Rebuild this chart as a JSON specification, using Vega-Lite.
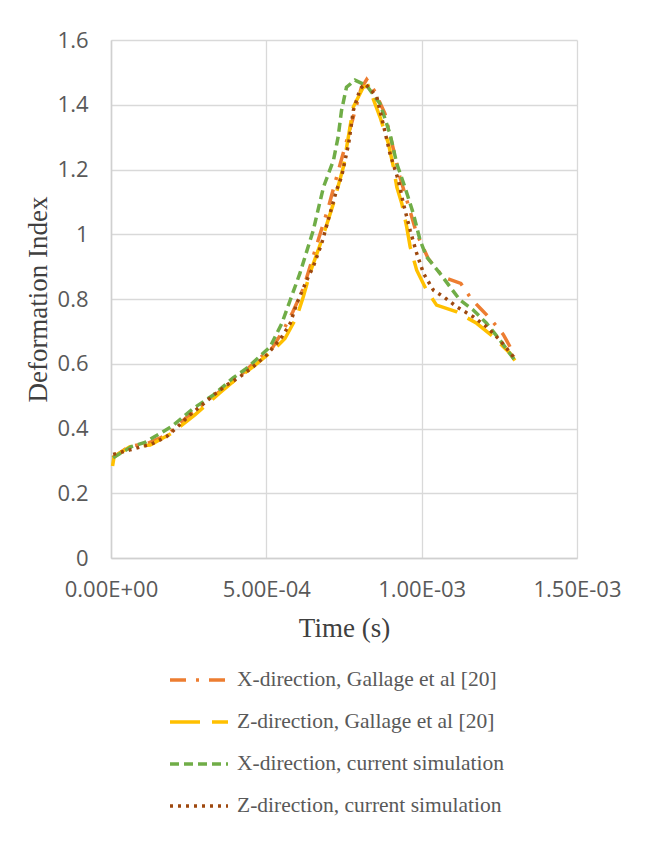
{
  "$schema": "https://vega.github.io/schema/vega-lite/v6.json",
  "width": 466,
  "height": 518,
  "autosize": {"type": "none"},
  "padding": {"left": 111, "top": 40, "right": 85, "bottom": 285},
  "background": "white",
  "config": {
    "view": {"stroke": null},
    "axis": {
      "labelFont": "Open Sans",
      "labelFontSize": 22,
      "labelColor": "#595959",
      "titleFont": "Liberation Serif",
      "titleFontSize": 27,
      "titleFontWeight": "normal",
      "titleColor": "#404040",
      "gridColor": "#d9d9d9",
      "gridWidth": 1.3,
      "domainColor": "#d0d0d0",
      "domainWidth": 1.5,
      "ticks": false
    },
    "legend": {
      "orient": "none",
      "legendX": 57,
      "legendY": 609,
      "labelFont": "Liberation Serif",
      "labelFontSize": 21.5,
      "labelColor": "#595959",
      "labelLimit": 400,
      "labelOffset": 7,
      "symbolType": "stroke",
      "symbolSize": 3364,
      "symbolStrokeWidth": 3.5,
      "rowPadding": 0
    }
  },
  "data": {
    "values": [
      {"series": "X-direction, Gallage et al [20]", "t": 0.000005, "v": 0.31},
      {"series": "X-direction, Gallage et al [20]", "t": 0.00006, "v": 0.345},
      {"series": "X-direction, Gallage et al [20]", "t": 0.00012, "v": 0.355},
      {"series": "X-direction, Gallage et al [20]", "t": 0.00018, "v": 0.38},
      {"series": "X-direction, Gallage et al [20]", "t": 0.00025, "v": 0.44},
      {"series": "X-direction, Gallage et al [20]", "t": 0.00033, "v": 0.5},
      {"series": "X-direction, Gallage et al [20]", "t": 0.0004, "v": 0.55},
      {"series": "X-direction, Gallage et al [20]", "t": 0.00047, "v": 0.611},
      {"series": "X-direction, Gallage et al [20]", "t": 0.00052, "v": 0.65},
      {"series": "X-direction, Gallage et al [20]", "t": 0.000555, "v": 0.704},
      {"series": "X-direction, Gallage et al [20]", "t": 0.000585, "v": 0.76},
      {"series": "X-direction, Gallage et al [20]", "t": 0.000619, "v": 0.832},
      {"series": "X-direction, Gallage et al [20]", "t": 0.000657, "v": 0.951},
      {"series": "X-direction, Gallage et al [20]", "t": 0.0007, "v": 1.084},
      {"series": "X-direction, Gallage et al [20]", "t": 0.000738, "v": 1.218},
      {"series": "X-direction, Gallage et al [20]", "t": 0.00078, "v": 1.362},
      {"series": "X-direction, Gallage et al [20]", "t": 0.000805, "v": 1.45},
      {"series": "X-direction, Gallage et al [20]", "t": 0.000823, "v": 1.478},
      {"series": "X-direction, Gallage et al [20]", "t": 0.00085, "v": 1.44},
      {"series": "X-direction, Gallage et al [20]", "t": 0.000882, "v": 1.372},
      {"series": "X-direction, Gallage et al [20]", "t": 0.00093, "v": 1.177},
      {"series": "X-direction, Gallage et al [20]", "t": 0.000984, "v": 1.002},
      {"series": "X-direction, Gallage et al [20]", "t": 0.001021, "v": 0.925},
      {"series": "X-direction, Gallage et al [20]", "t": 0.001069, "v": 0.868},
      {"series": "X-direction, Gallage et al [20]", "t": 0.001126, "v": 0.848},
      {"series": "X-direction, Gallage et al [20]", "t": 0.00116, "v": 0.8},
      {"series": "X-direction, Gallage et al [20]", "t": 0.00119, "v": 0.77},
      {"series": "X-direction, Gallage et al [20]", "t": 0.00122, "v": 0.74},
      {"series": "X-direction, Gallage et al [20]", "t": 0.001263, "v": 0.69},
      {"series": "X-direction, Gallage et al [20]", "t": 0.0013, "v": 0.625},

      {"series": "Z-direction, Gallage et al [20]", "t": 0.000005, "v": 0.284},
      {"series": "Z-direction, Gallage et al [20]", "t": 0.00001, "v": 0.313},
      {"series": "Z-direction, Gallage et al [20]", "t": 0.000061, "v": 0.344},
      {"series": "Z-direction, Gallage et al [20]", "t": 0.000126, "v": 0.349},
      {"series": "Z-direction, Gallage et al [20]", "t": 0.000195, "v": 0.385},
      {"series": "Z-direction, Gallage et al [20]", "t": 0.00027, "v": 0.442},
      {"series": "Z-direction, Gallage et al [20]", "t": 0.00035, "v": 0.51},
      {"series": "Z-direction, Gallage et al [20]", "t": 0.0004, "v": 0.55},
      {"series": "Z-direction, Gallage et al [20]", "t": 0.000458, "v": 0.591},
      {"series": "Z-direction, Gallage et al [20]", "t": 0.000522, "v": 0.642},
      {"series": "Z-direction, Gallage et al [20]", "t": 0.00056, "v": 0.678},
      {"series": "Z-direction, Gallage et al [20]", "t": 0.000598, "v": 0.745},
      {"series": "Z-direction, Gallage et al [20]", "t": 0.000619, "v": 0.807},
      {"series": "Z-direction, Gallage et al [20]", "t": 0.00064, "v": 0.879},
      {"series": "Z-direction, Gallage et al [20]", "t": 0.000678, "v": 0.981},
      {"series": "Z-direction, Gallage et al [20]", "t": 0.000716, "v": 1.095},
      {"series": "Z-direction, Gallage et al [20]", "t": 0.000748, "v": 1.208},
      {"series": "Z-direction, Gallage et al [20]", "t": 0.00078, "v": 1.393},
      {"series": "Z-direction, Gallage et al [20]", "t": 0.000812, "v": 1.454},
      {"series": "Z-direction, Gallage et al [20]", "t": 0.000828, "v": 1.459},
      {"series": "Z-direction, Gallage et al [20]", "t": 0.000866, "v": 1.362},
      {"series": "Z-direction, Gallage et al [20]", "t": 0.000893, "v": 1.28},
      {"series": "Z-direction, Gallage et al [20]", "t": 0.000909, "v": 1.208},
      {"series": "Z-direction, Gallage et al [20]", "t": 0.00092, "v": 1.146},
      {"series": "Z-direction, Gallage et al [20]", "t": 0.000936, "v": 1.095},
      {"series": "Z-direction, Gallage et al [20]", "t": 0.000952, "v": 1.022},
      {"series": "Z-direction, Gallage et al [20]", "t": 0.000963, "v": 0.961},
      {"series": "Z-direction, Gallage et al [20]", "t": 0.000984, "v": 0.889},
      {"series": "Z-direction, Gallage et al [20]", "t": 0.001016, "v": 0.827},
      {"series": "Z-direction, Gallage et al [20]", "t": 0.001048, "v": 0.781},
      {"series": "Z-direction, Gallage et al [20]", "t": 0.001113, "v": 0.76},
      {"series": "Z-direction, Gallage et al [20]", "t": 0.001177, "v": 0.725},
      {"series": "Z-direction, Gallage et al [20]", "t": 0.001231, "v": 0.683},
      {"series": "Z-direction, Gallage et al [20]", "t": 0.001285, "v": 0.632},
      {"series": "Z-direction, Gallage et al [20]", "t": 0.0013, "v": 0.61},

      {"series": "X-direction, current simulation", "t": 0.000007, "v": 0.31},
      {"series": "X-direction, current simulation", "t": 0.000066, "v": 0.344},
      {"series": "X-direction, current simulation", "t": 0.000109, "v": 0.357},
      {"series": "X-direction, current simulation", "t": 0.000195, "v": 0.406},
      {"series": "X-direction, current simulation", "t": 0.000265, "v": 0.462},
      {"series": "X-direction, current simulation", "t": 0.00033, "v": 0.504},
      {"series": "X-direction, current simulation", "t": 0.000394, "v": 0.557},
      {"series": "X-direction, current simulation", "t": 0.000437, "v": 0.586},
      {"series": "X-direction, current simulation", "t": 0.000512, "v": 0.652},
      {"series": "X-direction, current simulation", "t": 0.00055, "v": 0.725},
      {"series": "X-direction, current simulation", "t": 0.000577, "v": 0.797},
      {"series": "X-direction, current simulation", "t": 0.000608, "v": 0.879},
      {"series": "X-direction, current simulation", "t": 0.000651, "v": 1.012},
      {"series": "X-direction, current simulation", "t": 0.000684, "v": 1.146},
      {"series": "X-direction, current simulation", "t": 0.000716, "v": 1.228},
      {"series": "X-direction, current simulation", "t": 0.000731, "v": 1.3},
      {"series": "X-direction, current simulation", "t": 0.000742, "v": 1.382},
      {"series": "X-direction, current simulation", "t": 0.000758, "v": 1.454},
      {"series": "X-direction, current simulation", "t": 0.000785, "v": 1.476},
      {"series": "X-direction, current simulation", "t": 0.000823, "v": 1.459},
      {"series": "X-direction, current simulation", "t": 0.000866, "v": 1.403},
      {"series": "X-direction, current simulation", "t": 0.000898, "v": 1.31},
      {"series": "X-direction, current simulation", "t": 0.00092, "v": 1.218},
      {"series": "X-direction, current simulation", "t": 0.000946, "v": 1.146},
      {"series": "X-direction, current simulation", "t": 0.000973, "v": 1.064},
      {"series": "X-direction, current simulation", "t": 0.000995, "v": 0.981},
      {"series": "X-direction, current simulation", "t": 0.001016, "v": 0.93},
      {"series": "X-direction, current simulation", "t": 0.001059, "v": 0.879},
      {"series": "X-direction, current simulation", "t": 0.001123, "v": 0.797},
      {"series": "X-direction, current simulation", "t": 0.001166, "v": 0.766},
      {"series": "X-direction, current simulation", "t": 0.001209, "v": 0.725},
      {"series": "X-direction, current simulation", "t": 0.001252, "v": 0.673},
      {"series": "X-direction, current simulation", "t": 0.001304, "v": 0.605},

      {"series": "Z-direction, current simulation", "t": 0.000007, "v": 0.32},
      {"series": "Z-direction, current simulation", "t": 0.000061, "v": 0.334},
      {"series": "Z-direction, current simulation", "t": 0.000131, "v": 0.352},
      {"series": "Z-direction, current simulation", "t": 0.000179, "v": 0.375},
      {"series": "Z-direction, current simulation", "t": 0.000217, "v": 0.408},
      {"series": "Z-direction, current simulation", "t": 0.000254, "v": 0.442},
      {"series": "Z-direction, current simulation", "t": 0.000286, "v": 0.467},
      {"series": "Z-direction, current simulation", "t": 0.000334, "v": 0.506},
      {"series": "Z-direction, current simulation", "t": 0.000372, "v": 0.534},
      {"series": "Z-direction, current simulation", "t": 0.000415, "v": 0.56},
      {"series": "Z-direction, current simulation", "t": 0.000458, "v": 0.591},
      {"series": "Z-direction, current simulation", "t": 0.000501, "v": 0.627},
      {"series": "Z-direction, current simulation", "t": 0.000533, "v": 0.663},
      {"series": "Z-direction, current simulation", "t": 0.00055, "v": 0.683},
      {"series": "Z-direction, current simulation", "t": 0.000577, "v": 0.725},
      {"series": "Z-direction, current simulation", "t": 0.000598, "v": 0.786},
      {"series": "Z-direction, current simulation", "t": 0.00063, "v": 0.858},
      {"series": "Z-direction, current simulation", "t": 0.000651, "v": 0.9},
      {"series": "Z-direction, current simulation", "t": 0.000678, "v": 0.971},
      {"series": "Z-direction, current simulation", "t": 0.000705, "v": 1.064},
      {"series": "Z-direction, current simulation", "t": 0.000726, "v": 1.136},
      {"series": "Z-direction, current simulation", "t": 0.000742, "v": 1.177},
      {"series": "Z-direction, current simulation", "t": 0.000765, "v": 1.28},
      {"series": "Z-direction, current simulation", "t": 0.00078, "v": 1.382},
      {"series": "Z-direction, current simulation", "t": 0.000802, "v": 1.449},
      {"series": "Z-direction, current simulation", "t": 0.000818, "v": 1.465},
      {"series": "Z-direction, current simulation", "t": 0.000855, "v": 1.426},
      {"series": "Z-direction, current simulation", "t": 0.000876, "v": 1.341},
      {"series": "Z-direction, current simulation", "t": 0.000898, "v": 1.249},
      {"series": "Z-direction, current simulation", "t": 0.000925, "v": 1.167},
      {"series": "Z-direction, current simulation", "t": 0.000941, "v": 1.095},
      {"series": "Z-direction, current simulation", "t": 0.000963, "v": 1.012},
      {"series": "Z-direction, current simulation", "t": 0.000984, "v": 0.941},
      {"series": "Z-direction, current simulation", "t": 0.001006, "v": 0.879},
      {"series": "Z-direction, current simulation", "t": 0.001038, "v": 0.827},
      {"series": "Z-direction, current simulation", "t": 0.00107, "v": 0.807},
      {"series": "Z-direction, current simulation", "t": 0.001113, "v": 0.776},
      {"series": "Z-direction, current simulation", "t": 0.001166, "v": 0.745},
      {"series": "Z-direction, current simulation", "t": 0.001209, "v": 0.714},
      {"series": "Z-direction, current simulation", "t": 0.001252, "v": 0.673},
      {"series": "Z-direction, current simulation", "t": 0.001295, "v": 0.622},
      {"series": "Z-direction, current simulation", "t": 0.0013, "v": 0.612}
    ]
  },
  "mark": {"type": "line", "strokeWidth": 3.5, "clip": false},
  "encoding": {
    "x": {
      "field": "t",
      "type": "quantitative",
      "scale": {"domain": [0, 0.0015], "nice": false, "zero": false},
      "axis": {
        "title": "Time (s)",
        "values": [0, 0.0005, 0.001, 0.0015],
        "labelExpr": "datum.value < 0.00025 ? '0.00E+00' : datum.value < 0.00075 ? '5.00E-04' : datum.value < 0.00125 ? '1.00E-03' : '1.50E-03'",
        "labelPadding": 21,
        "titlePadding": 15,
        "labelFlush": false,
        "labelOverlap": false
      }
    },
    "y": {
      "field": "v",
      "type": "quantitative",
      "scale": {"domain": [0, 1.6], "nice": false},
      "axis": {
        "title": "Deformation Index",
        "values": [0, 0.2, 0.4, 0.6, 0.8, 1, 1.2, 1.4, 1.6],
        "format": ".1~f",
        "labelPadding": 23,
        "titlePadding": 5,
        "labelOverlap": false
      }
    },
    "color": {
      "field": "series",
      "type": "nominal",
      "title": null,
      "scale": {
        "domain": ["X-direction, Gallage et al [20]", "Z-direction, Gallage et al [20]", "X-direction, current simulation", "Z-direction, current simulation"],
        "range": ["#ED7D31", "#FFC000", "#70AD47", "#9E480E"]
      }
    },
    "strokeDash": {
      "field": "series",
      "type": "nominal",
      "title": null,
      "scale": {
        "domain": ["X-direction, Gallage et al [20]", "Z-direction, Gallage et al [20]", "X-direction, current simulation", "Z-direction, current simulation"],
        "range": [[16, 10, 3, 10], [30, 12], [9, 5], [3, 5]]
      }
    }
  }
}
